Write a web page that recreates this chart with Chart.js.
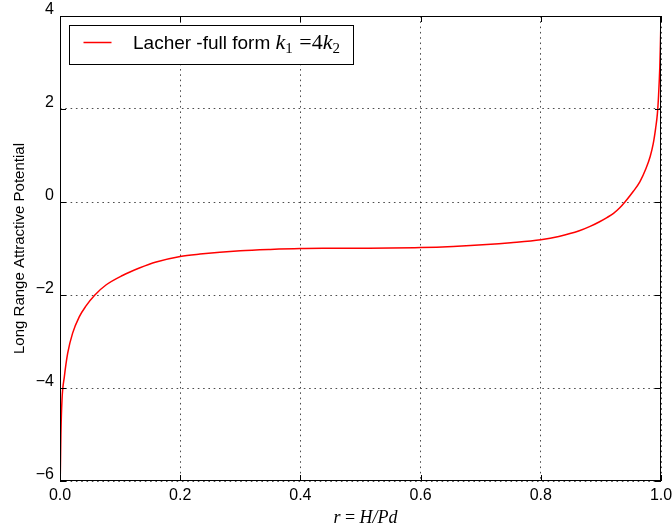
<!DOCTYPE html>
<html>
<head>
<meta charset="utf-8">
<script src="https://cdn.jsdelivr.net/npm/chart.js@4"></script>
<style>
  html, body { margin: 0; padding: 0; background: #fff; }
</style>
</head>
<body>
<canvas id="chart" width="672" height="530"></canvas>
<script>
// Ratio r = H/Pd along the horizontal axis
const rValues = [
  0.0003, 0.0008, 0.0015, 0.0033, 0.0072, 0.0128, 0.021, 0.032, 0.043, 0.058,
  0.077, 0.104, 0.132, 0.16, 0.20, 0.233, 0.30, 0.35, 0.40, 0.45,
  0.50, 0.55, 0.60, 0.654, 0.71, 0.75, 0.80, 0.83, 0.864, 0.882,
  0.897, 0.91, 0.921, 0.931, 0.94, 0.954, 0.965, 0.975, 0.982, 0.987,
  0.991, 0.994, 0.996, 0.998, 0.999, 1.0
];
// Long range attractive potential at each ratio
const potential = [
  -6.0, -5.6, -5.0, -4.26, -3.76, -3.25, -2.82, -2.47, -2.24, -2.0,
  -1.78, -1.58, -1.42, -1.29, -1.17, -1.12, -1.05, -1.02, -1.0, -0.995,
  -0.993, -0.99, -0.98, -0.955, -0.915, -0.875, -0.81, -0.74, -0.62, -0.525,
  -0.43, -0.335, -0.245, -0.13, 0.0, 0.23, 0.44, 0.72, 0.98, 1.25,
  1.58, 1.9, 2.3, 2.9, 3.4, 3.95
];

const xTicks = [0.0, 0.2, 0.4, 0.6, 0.8, 1.0];
const xTickLabels = ['0.0', '0.2', '0.4', '0.6', '0.8', '1.0'];
const yTicks = [-6, -4, -2, 0, 2, 4];
const yTickLabels = ['\u22126', '\u22124', '\u22122', '0', '2', '4'];

// Legend text: plain words followed by k_1 = 4 k_2 set as math
const legendPieces = [
  { text: 'Lacher -full form ', kind: 'plain' },
  { text: 'k', kind: 'italic' },
  { text: '1', kind: 'sub' },
  { text: ' =4', kind: 'math' },
  { text: 'k', kind: 'italic' },
  { text: '2', kind: 'sub' }
];
const seriesLabel = 'Lacher -full form k1 =4k2';

// Horizontal axis title r = H/Pd, set as math
const xTitlePieces = [
  { text: 'r', kind: 'italic' },
  { text: ' = ', kind: 'math' },
  { text: 'H/Pd', kind: 'italic' }
];
const yTitle = 'Long Range Attractive Potential';

const SANS = '"Liberation Sans", Arial, sans-serif';
const SERIF = '"Liberation Serif", "Times New Roman", serif';

Chart.defaults.font.family = SANS;
Chart.defaults.font.size = 16;
Chart.defaults.color = '#000';

function drawPieces(ctx, pieces, fonts, x, base, subDrop) {
  pieces.forEach(p => {
    ctx.font = fonts[p.kind];
    ctx.fillText(p.text, x, p.kind === 'sub' ? base + subDrop : base);
    x += ctx.measureText(p.text).width + (p.kind === 'sub' ? 1 : 0);
  });
  return x;
}
function measurePieces(ctx, pieces, fonts) {
  let w = 0;
  pieces.forEach(p => { ctx.font = fonts[p.kind]; w += ctx.measureText(p.text).width; });
  return w;
}

// Frame on all four sides plus inward tick marks, as in classic plots
const framePlugin = {
  id: 'frame',
  afterDatasetsDraw(chart) {
    const { ctx, chartArea: a, scales } = chart;
    const len = 6;
    ctx.save();
    ctx.strokeStyle = '#000';
    ctx.lineWidth = 1;
    ctx.beginPath();
    scales.x.ticks.forEach(t => {
      const px = Math.round(scales.x.getPixelForValue(t.value)) + 0.5;
      ctx.moveTo(px, a.bottom); ctx.lineTo(px, a.bottom - len);
      ctx.moveTo(px, a.top); ctx.lineTo(px, a.top + len);
    });
    scales.y.ticks.forEach(t => {
      const py = Math.round(scales.y.getPixelForValue(t.value)) + 0.5;
      ctx.moveTo(a.left, py); ctx.lineTo(a.left + len, py);
      ctx.moveTo(a.right, py); ctx.lineTo(a.right - len, py);
    });
    ctx.stroke();
    ctx.strokeRect(Math.round(a.left) + 0.5, Math.round(a.top) + 0.5,
                   Math.round(a.right - a.left) - 1, Math.round(a.bottom - a.top) - 1);
    ctx.restore();
  }
};

// Boxed legend in the upper left and the math-set axis title
const textPlugin = {
  id: 'mathText',
  afterDraw(chart) {
    const { ctx, chartArea: a } = chart;
    const ds = chart.data.datasets[0];
    const fonts = {
      plain: '19px ' + SANS,
      italic: 'italic 22px ' + SERIF,
      math: '22px ' + SERIF,
      sub: '15px ' + SERIF
    };
    const bx = Math.round(a.left) + 9.5, by = Math.round(a.top) + 9.5;
    const bw = 284, bh = 39;
    ctx.save();
    ctx.fillStyle = '#fff';
    ctx.fillRect(bx, by, bw, bh);
    ctx.strokeStyle = '#000';
    ctx.lineWidth = 1;
    ctx.strokeRect(bx, by, bw, bh);
    ctx.strokeStyle = ds.borderColor;
    ctx.lineWidth = ds.borderWidth;
    ctx.beginPath();
    ctx.moveTo(bx + 14, by + 17);
    ctx.lineTo(bx + 42, by + 17);
    ctx.stroke();
    ctx.fillStyle = '#000';
    ctx.textBaseline = 'alphabetic';
    ctx.textAlign = 'left';
    drawPieces(ctx, legendPieces, fonts, bx + 63.5, by + 23.5, 4);

    // x-axis title, centred a little right of the plot centre
    const tf = { italic: 'italic 18px ' + SERIF, math: '18px ' + SERIF };
    const w = measurePieces(ctx, xTitlePieces, tf);
    const cx = (a.left + a.right) / 2 + 5;
    drawPieces(ctx, xTitlePieces, tf, cx - w / 2, chart.height - 7, 0);
    ctx.restore();
  }
};

const gridStyle = {
  color: 'rgba(0,0,0,0.7)',
  lineWidth: 1,
  drawTicks: false,
  tickLength: 0
};
const gridBorder = { display: false, dash: [1.6, 3.7] };

new Chart(document.getElementById('chart'), {
  type: 'line',
  data: {
    datasets: [{
      label: seriesLabel,
      data: rValues.map((r, i) => ({ x: r, y: potential[i] })),
      borderColor: '#ff0000',
      borderWidth: 1.5,
      pointRadius: 0,
      fill: false,
      cubicInterpolationMode: 'monotone'
    }]
  },
  options: {
    responsive: false,
    animation: false,
    events: [],
    layout: { padding: { left: 0, right: 11, top: 16, bottom: 0 } },
    plugins: {
      legend: { display: false },
      tooltip: { enabled: false }
    },
    scales: {
      x: {
        type: 'linear',
        min: 0,
        max: 1,
        afterFit: s => { s.height = 49; s.paddingLeft = 0; s.paddingRight = 0; },
        afterBuildTicks: s => { s.ticks = xTicks.map(v => ({ value: v })); },
        ticks: {
          padding: 5,
          maxRotation: 0,
          callback: (v, i) => xTickLabels[i]
        },
        grid: gridStyle,
        border: gridBorder,
        title: { display: false }
      },
      y: {
        type: 'linear',
        min: -6,
        max: 4,
        afterFit: s => { s.width = 60; s.paddingTop = 0; s.paddingBottom = 0; },
        afterBuildTicks: s => { s.ticks = yTicks.map(v => ({ value: v })); },
        ticks: {
          padding: 6,
          labelOffset: -6,
          callback: (v, i) => yTickLabels[i]
        },
        grid: gridStyle,
        border: gridBorder,
        title: {
          display: true,
          text: yTitle,
          font: { family: SANS, size: 15 },
          padding: { top: 11, bottom: 0 }
        }
      }
    }
  },
  plugins: [framePlugin, textPlugin]
});
</script>
</body>
</html>
